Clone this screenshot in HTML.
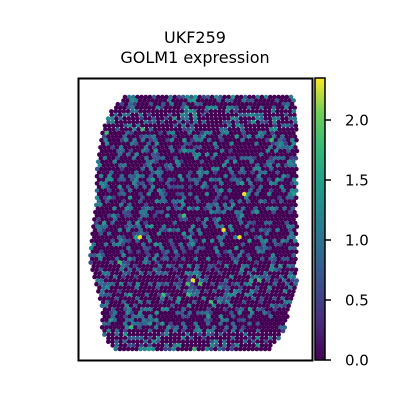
<!DOCTYPE html>
<html><head><meta charset="utf-8"><style>
body{margin:0;background:#fff}
svg text{font-family:"DejaVu Sans","Liberation Sans",sans-serif;fill:#000}
</style></head><body>
<svg id="s" width="400" height="400" viewBox="0 0 400 400">
<defs><linearGradient id="vir" x1="0" y1="1" x2="0" y2="0">
<stop offset="0" stop-color="#440154"/><stop offset="0.125" stop-color="#482878"/><stop offset="0.25" stop-color="#3e4989"/><stop offset="0.375" stop-color="#31688e"/><stop offset="0.5" stop-color="#26828e"/><stop offset="0.625" stop-color="#1f9e89"/><stop offset="0.75" stop-color="#35b779"/><stop offset="0.875" stop-color="#6ece58"/><stop offset="1" stop-color="#fde725"/>
</linearGradient></defs>
<text x="195" y="43" font-size="16" text-anchor="middle">UKF259</text>
<text x="195" y="63" font-size="16" text-anchor="middle">GOLM1 expression</text>
<g id="spots"></g>
<rect x="78.5" y="78.5" width="234" height="282" fill="none" stroke="#000" stroke-width="2"/>
<rect x="315" y="78" width="10" height="282" fill="url(#vir)" stroke="#000" stroke-width="1.5"/>
<g id="cbticks"></g>
</svg>
<script>
const tickValues=[0,0.5,1,1.5,2];
const tickLabels=["0.0","0.5","1.0","1.5","2.0"];
const vmax=2.35;
// tissue boundary (left/right x extent per y level)
const edgeY=[97,110,130,150,170,200,230,260,290,310,330,345,352];
const edgeL=[125,112,103,100,97,97,93,90,98,103,102,110,120];
const edgeR=[295,297,297,297,297,297,297,297,297,290,285,275,265];
// expression codes: digit d -> d*0.18, h -> 1.8, y -> 2.3
const exprCodes="0040500603007000450060030805004000370005060300600504007003005000580004003070050060000405006030060500040070005003600800050400060030500600040700300506000740030050006040007050030600050407000360050070040600300705000406003050070060400050030700605000h0040050006030070000504006000730050080040060003000705040030006050070004030050600070400508003000605040070030005060000740h030500060040703000050600470030050060000y4030070500600004050030700600540003";
const svgNS="http://www.w3.org/2000/svg";
const cols=["#440154","#482878","#3e4989","#31688e","#26828e","#1f9e89","#35b779","#6ece58","#fde725"];
function hex(c){return [parseInt(c.slice(1,3),16),parseInt(c.slice(3,5),16),parseInt(c.slice(5,7),16)];}
function color(v){let t=Math.max(0,Math.min(1,v/vmax))*8;let i=Math.min(7,Math.floor(t)),f=t-i;let a=hex(cols[i]),b=hex(cols[i+1]);return `rgb(${a.map((x,k)=>Math.round(x+(b[k]-x)*f)).join(",")})`;}
function yScale(v){return 360-v/vmax*282;}
function edge(arr,y){for(let i=0;i<edgeY.length-1;i++){if(y>=edgeY[i]&&y<=edgeY[i+1]){let f=(y-edgeY[i])/(edgeY[i+1]-edgeY[i]);return arr[i]+(arr[i+1]-arr[i])*f;}}return null;}
function val(ch){if(ch==="h")return 1.8;if(ch==="y")return 2.3;return (+ch)*0.18;}
const g=document.getElementById("spots");
let r=0;
for(let y=edgeY[0];y<=edgeY[edgeY.length-1];y+=3.6,r++){
  const L=edge(edgeL,y),R=edge(edgeR,y);if(L===null)continue;
  let c=0;
  for(let x=L+(r%2?2.07:0);x<=R;x+=4.15,c++){
    const idx=(r*r*7+c*c*3+r*c*11+c*17+r*29)%exprCodes.length;
    const v=val(exprCodes[idx]);
    const e=document.createElementNS(svgNS,"circle");
    e.setAttribute("cx",x.toFixed(2));e.setAttribute("cy",y.toFixed(2));e.setAttribute("r","2.3");
    e.setAttribute("fill",color(v));
    
    
    g.appendChild(e);
  }
}
const tg=document.getElementById("cbticks");
tickValues.forEach((v,i)=>{
  const y=yScale(v);
  const l=document.createElementNS(svgNS,"line");
  l.setAttribute("x1",325);l.setAttribute("x2",331);l.setAttribute("y1",y);l.setAttribute("y2",y);l.setAttribute("stroke","#000");l.setAttribute("stroke-width","1.5");
  
  
  tg.appendChild(l);
  const t=document.createElementNS(svgNS,"text");
  t.setAttribute("x",345);t.setAttribute("y",y+5.5);t.setAttribute("font-size","15");
  t.textContent=tickLabels[i];
  
  
  tg.appendChild(t);
});
</script>
</body></html>
